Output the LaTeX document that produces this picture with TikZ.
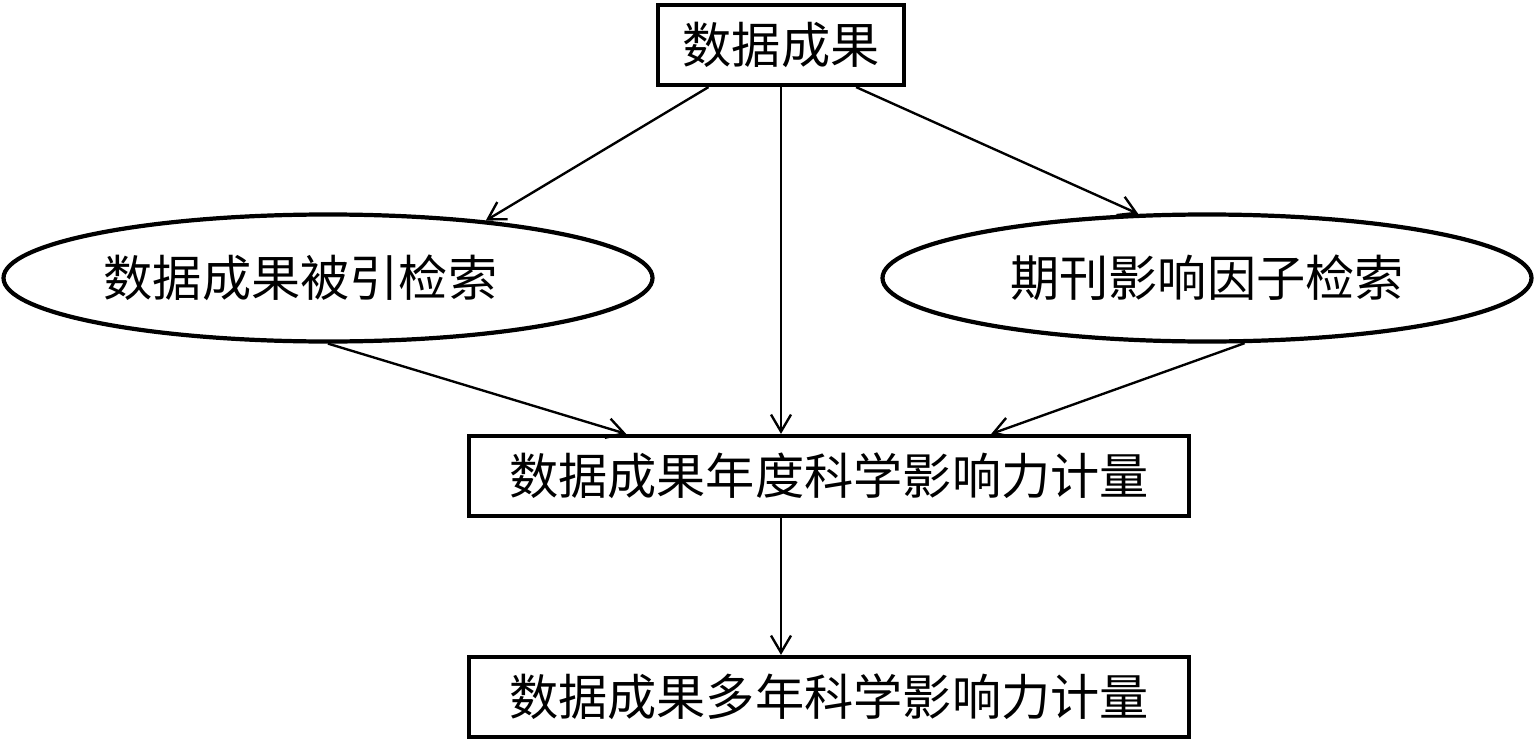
\documentclass[tikz,border=0pt]{standalone}
\usepackage{fontspec}
\newfontfamily\cjk{Noto Sans CJK SC}
\usetikzlibrary{arrows.meta, shapes.geometric, calc}

\begin{document}
\begin{tikzpicture}[
	box/.style={draw, line width=2.4pt, minimum height=1.6cm, inner sep=0pt, font=\cjk\fontsize{28pt}{34pt}\selectfont},
	oval/.style={ellipse, draw, line width=2.4pt, minimum width=12.98cm, minimum height=2.54cm, inner sep=0pt, font=\cjk\fontsize{28pt}{34pt}\selectfont},
	link/.style={line width=1.35pt, -{Straight Barb[length=0.34cm, width=0.4cm]}}]
		
		\useasboundingbox (0,0) rectangle (30.72,-14.84);
		
		\node[box, minimum width=4.92cm] (res) at (15.62,-0.9) {数据成果};
		\node[oval] (cit) at (6.56,-5.56) {数据成果被引检索\hspace*{1.1cm}};
		\node[oval] (jif) at (24.14,-5.56) {期刊影响因子检索};
		\node[box, minimum width=14.4cm] (year) at (16.58,-9.52) {数据成果年度科学影响力计量};
		\node[box, minimum width=14.4cm] (multi) at (16.58,-13.94) {数据成果多年科学影响力计量};
		
		\draw[link] ($(res.south west)!.21!(res.south east)$) -- (cit.20);
		\draw[link] ($(res.south west)!.80!(res.south east)$) -- (jif.137);
		\draw[link] (res.south) -- (res.south |- year.north);
		
		\draw[link] (cit.south) -- ($(year.north west)!.22!(year.north east)$);
		\draw[link] (jif.-60) -- ($(year.north west)!.724!(year.north east)$);
		
		\draw[link] (year.south -| res.south) -- (multi.north -| res.south);
		
\end{tikzpicture}
\end{document}
